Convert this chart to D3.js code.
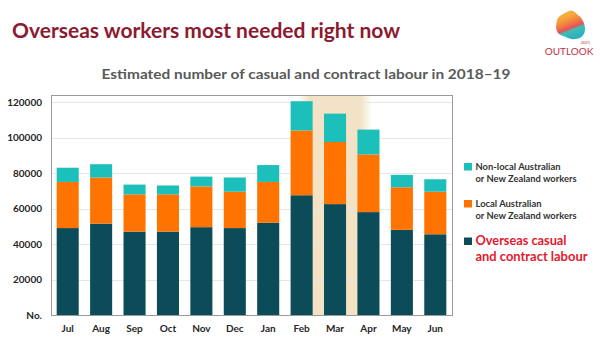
<!DOCTYPE html>
<html>
<head>
<meta charset="utf-8">
<script src="https://cdn.jsdelivr.net/npm/d3@7"></script>
<style>
  body { margin: 0; background: #fff; }
  svg { display: block; }
</style>
</head>
<body>
<div id="chart"></div>
<script>
// valores (trabajadores por mes)
const months = ["Jul", "Aug", "Sep", "Oct", "Nov", "Dec", "Jan", "Feb", "Mar", "Apr", "May", "Jun"];
const overseas = [49000, 51500, 47000, 47000, 49500, 49000, 52000, 67500, 62500, 58000, 48000, 45500];
const local    = [26000, 26000, 21000, 21000, 23000, 20500, 23000, 36500, 35000, 32500, 24000, 24000];
const nonlocal = [8000, 7500, 5500, 5000, 5500, 8000, 9500, 16500, 16000, 14000, 7000, 7000];
const yTicks = [20000, 40000, 60000, 80000, 100000, 120000];
const highlightMonth = "Mar";

const W = 600, H = 350;
const plot = { left: 51, right: 452, top: 95, bottom: 315 };
const font = "Lato, 'Open Sans', sans-serif";

const svg = d3.select("#chart").append("svg")
    .attr("width", W)
    .attr("height", H);

const defs = svg.append("defs");

// titulo
const title = svg.append("text")
    .attr("x", 12)
    .attr("y", 38)
    .attr("font-family", font)
    .attr("font-weight", "bold")
    .style("font-size", "21px")
    .attr("fill", "#8c1a30")
    .text("Overseas workers most needed right now");
title.attr("textLength", 388).attr("lengthAdjust", "spacingAndGlyphs");

const sub = svg.append("text")
    .attr("x", 306)
    .attr("y", 79)
    .attr("text-anchor", "middle")
    .attr("font-family", font)
    .attr("font-weight", "bold")
    .style("font-size", "13px")
    .attr("fill", "#595959")
    .text("Estimated number of casual and contract labour in 2018–19");
sub.attr("textLength", 409).attr("lengthAdjust", "spacingAndGlyphs");

// logo aproximado
const lg = defs.append("linearGradient").attr("id", "logoGrad")
    .attr("x1", "0").attr("y1", "0").attr("x2", "0.4").attr("y2", "1");
[["0", "#f9c23c"], ["0.35", "#f7a23a"], ["0.55", "#f07a45"], ["0.7", "#e9505a"], ["0.78", "#3fbfb3"], ["1", "#2fb0c0"]]
    .forEach(([o, c]) => lg.append("stop").attr("offset", o).attr("stop-color", c));
svg.append("path")
    .attr("d", "M557,20 C559,15 565,13 569,11 C573,9 576,13 578,15 C582,18 585,23 585,29 C585,35 581,39 575,39 C570,40 567,37 563,36 C559,35 556,32 556,26 Z")
    .attr("fill", "url(#logoGrad)");
svg.append("text")
    .attr("x", 569).attr("y", 55)
    .attr("text-anchor", "middle")
    .attr("font-family", font)
    .style("font-size", "10px")
    .attr("fill", "#c0304a")
    .text("OUTLOOK");
svg.append("text")
    .attr("x", 590).attr("y", 44)
    .attr("text-anchor", "end")
    .attr("font-family", font)
    .style("font-size", "4px")
    .attr("fill", "#c0304a")
    .text("2021");

// escalas
const x = d3.scaleBand()
    .domain(months)
    .range([plot.left, plot.right])
    .paddingInner(0.34)
    .paddingOuter(0.17);

const y = d3.scaleLinear()
    .domain([0, 124000])
    .range([plot.bottom, plot.top]);

// sombreado de temporada alta
const sg = defs.append("linearGradient").attr("id", "shadeGrad");
[["0", 0], ["0.15", 1], ["0.85", 1], ["1", 0]]
    .forEach(([o, a]) => sg.append("stop").attr("offset", o)
        .attr("stop-color", "#f3e2c3").attr("stop-opacity", a));
const cx = x(highlightMonth) + x.bandwidth() / 2;
svg.append("rect")
    .attr("x", cx - x.step() * 1.1)
    .attr("y", plot.top + 1)
    .attr("width", x.step() * 2.2)
    .attr("height", plot.bottom - plot.top - 1)
    .attr("fill", "url(#shadeGrad)");

// lineas de cuadricula
svg.append("g")
    .selectAll("line")
    .data(yTicks)
    .join("line")
    .attr("x1", plot.left)
    .attr("x2", plot.right)
    .attr("y1", d => Math.round(y(d)) + 0.5)
    .attr("y2", d => Math.round(y(d)) + 0.5)
    .attr("stroke", "#e6e6e6");

// barras apiladas
const rows = months.map((m, i) => ({ month: m, overseas: overseas[i], local: local[i], nonlocal: nonlocal[i] }));
const keys = ["overseas", "local", "nonlocal"];
const colors = { overseas: "#0b4c58", local: "#ff7400", nonlocal: "#1cbfb9" };
const series = d3.stack().keys(keys)(rows);

svg.append("g")
    .selectAll("g")
    .data(series)
    .join("g")
    .attr("fill", d => colors[d.key])
    .selectAll("rect")
    .data(d => d)
    .join("rect")
    .attr("x", d => x(d.data.month))
    .attr("y", d => y(d[1]))
    .attr("width", x.bandwidth())
    .attr("height", d => y(d[0]) - y(d[1]));

// marco
svg.append("rect")
    .attr("x", plot.left + 0.5)
    .attr("y", plot.top + 0.5)
    .attr("width", plot.right - plot.left)
    .attr("height", plot.bottom - plot.top)
    .attr("fill", "none")
    .attr("stroke", "#9a9a9a");

// ejes
const xAxis = svg.append("g")
    .attr("transform", `translate(0, ${plot.bottom})`)
    .call(d3.axisBottom(x).tickSize(0).tickPadding(10));
xAxis.select(".domain").remove();
xAxis.selectAll("text")
    .attr("font-family", font)
    .attr("font-weight", "bold")
    .style("font-size", "10px")
    .attr("fill", "#262626");

const yAxis = svg.append("g")
    .attr("transform", `translate(${plot.left}, 0)`)
    .call(d3.axisLeft(y).tickValues([0].concat(yTicks)).tickSize(0).tickPadding(9)
        .tickFormat(d => d === 0 ? "No." : d3.format("d")(d)));
yAxis.select(".domain").remove();
yAxis.selectAll("text")
    .attr("font-family", font)
    .attr("font-weight", "bold")
    .style("font-size", "10px")
    .attr("fill", "#262626");

// leyenda
const legendItems = [
    { key: "nonlocal", lines: ["Non-local Australian", "or New Zealand workers"], widths: [85, 101], y: 163, size: 10, lh: 12.4, color: "#333" },
    { key: "local", lines: ["Local Australian", "or New Zealand workers"], widths: [66, 101], y: 200, size: 10, lh: 12.4, color: "#333" },
    { key: "overseas", lines: ["Overseas casual", "and contract labour"], widths: [91, 112], y: 237.5, size: 14, lh: 16, color: "#e3182d" }
];
const legend = svg.append("g");
legendItems.forEach(it => {
    legend.append("rect")
        .attr("x", 464)
        .attr("y", it.y)
        .attr("width", 8)
        .attr("height", 7.5)
        .attr("fill", colors[it.key]);
    it.lines.forEach((l, j) => {
        legend.append("text")
            .attr("x", 475.5)
            .attr("y", it.y + 6.5 + j * it.lh + (it.size > 12 ? 1 : 0))
            .attr("font-family", font)
            .attr("font-weight", "bold")
            .style("font-size", it.size + "px")
            .attr("fill", it.color)
            .attr("textLength", it.widths[j])
            .attr("lengthAdjust", "spacingAndGlyphs")
            .text(l);
    });
});
</script>
</body>
</html>
